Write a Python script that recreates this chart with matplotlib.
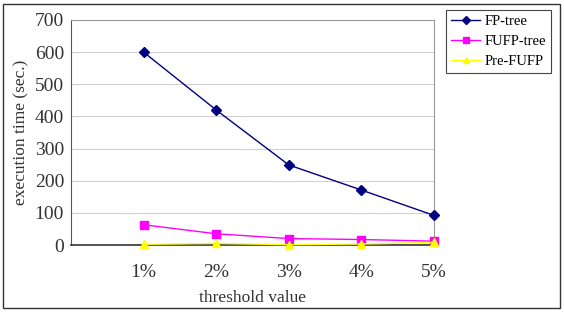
import matplotlib.pyplot as plt
from matplotlib.patches import Rectangle

thresholds = ['1%', '2%', '3%', '4%', '5%']
fp_tree = [600, 420, 249, 171, 92]
fufp_tree = [63, 35, 20, 17, 12]
pre_fufp = [2, 5, 1, 3, 8]

plt.rcParams['font.family'] = ['Liberation Serif', 'DejaVu Serif']

fig = plt.figure(figsize=(5.64, 3.12), dpi=100)
ax = fig.add_axes([71 / 564, 1 - 245 / 312, (434 - 71) / 564, (245 - 20) / 312])

x = list(range(1, len(thresholds) + 1))
ax.plot(x, fp_tree, color='#000080', marker='D', markersize=5, lw=1, label='FP-tree',
        clip_on=False, zorder=4)
ax.plot(x, fufp_tree, color='#ff00ff', marker='s', markersize=6, lw=1, label='FUFP-tree',
        clip_on=False, zorder=4)
ax.plot(x, pre_fufp, color='#ffff00', marker='^', markersize=6, lw=1, label='Pre-FUFP',
        clip_on=False, zorder=5)

ax.set_xlim(0, 5)
ax.set_ylim(0, 700)
ax.set_yticks(range(0, 701, 100))
ax.set_xticks(x)
ax.set_xticklabels(thresholds)
ax.tick_params(length=0, labelsize=14, colors='#333333', pad=5)
ax.tick_params(axis='x', pad=14)
ax.yaxis.grid(True, color='#d0d0d0', lw=0.8)
ax.set_axisbelow(True)
for s in ['top', 'right']:
    ax.spines[s].set_color('#999999')
ax.spines['left'].set_color('#555555')
ax.spines['bottom'].set_color('#333333')
ax.spines['bottom'].set_linewidth(1.2)

ax.set_ylabel('execution time (sec.)', fontsize=12.5, color='#333333', labelpad=4)
ax.set_xlabel('threshold value', fontsize=12.5, color='#333333', labelpad=6)

leg = fig.legend(loc='upper left', bbox_to_anchor=(446 / 564, 1 - 10 / 312), fontsize=10.5,
                 fancybox=False, framealpha=1, edgecolor='#444444', handlelength=2.0,
                 borderpad=0.35, labelspacing=0.45, handletextpad=0.3, borderaxespad=0,
                 markerscale=0.8)
leg.get_frame().set_linewidth(0.8)

fig.patches.append(Rectangle((3 / 564, 4 / 312), 557 / 564, 304 / 312, transform=fig.transFigure,
                             fill=False, edgecolor='#333333', lw=1))

fig.savefig('out.png', dpi=100)
